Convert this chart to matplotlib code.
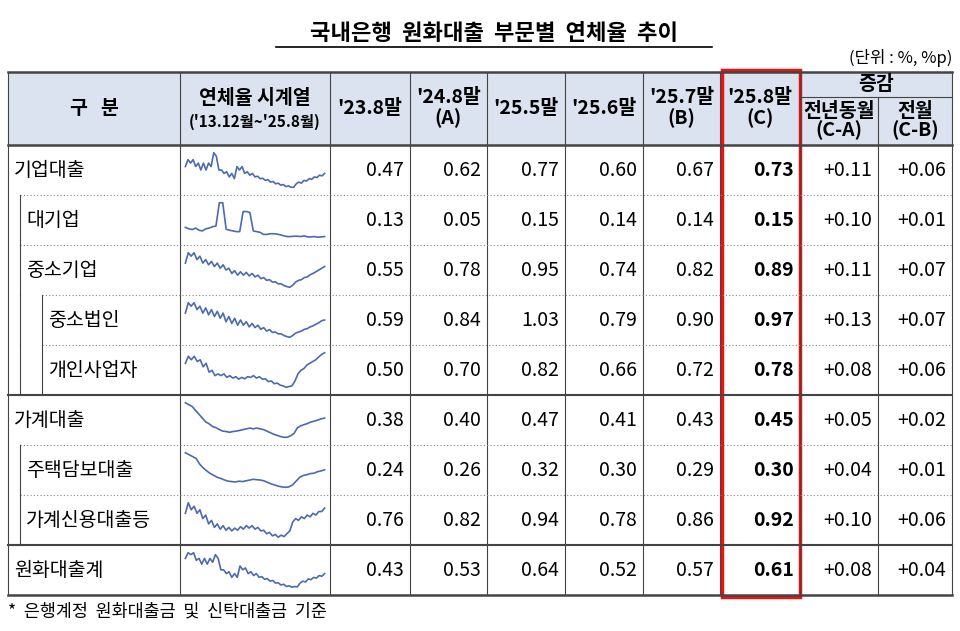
import matplotlib
matplotlib.use("Agg")
import matplotlib.pyplot as plt
from matplotlib.patches import Rectangle

plt.rcParams['font.family'] = ['Noto Sans CJK KR', 'DejaVu Sans']

title = "국내은행  원화대출  부문별  연체율  추이"
unit = "(단위 : %, %p)"
footnote = "*  은행계정  원화대출금  및  신탁대출금  기준"
categories = ["기업대출", "대기업", "중소기업", "중소법인", "개인사업자",
              "가계대출", "주택담보대출", "가계신용대출등", "원화대출계"]
indent = [0, 1, 1, 2, 2, 0, 1, 1, 0]
col_heads = ["'23.8말", "'24.8말\n(A)", "'25.5말", "'25.6말", "'25.7말\n(B)", "'25.8말\n(C)"]
sub_heads = ["전년동월\n(C-A)", "전월\n(C-B)"]
v238 = ["0.47", "0.13", "0.55", "0.59", "0.50", "0.38", "0.24", "0.76", "0.43"]
v248 = ["0.62", "0.05", "0.78", "0.84", "0.70", "0.40", "0.26", "0.82", "0.53"]
v255 = ["0.77", "0.15", "0.95", "1.03", "0.82", "0.47", "0.32", "0.94", "0.64"]
v256 = ["0.60", "0.14", "0.74", "0.79", "0.66", "0.41", "0.30", "0.78", "0.52"]
v257 = ["0.67", "0.14", "0.82", "0.90", "0.72", "0.43", "0.29", "0.86", "0.57"]
v258 = ["0.73", "0.15", "0.89", "0.97", "0.78", "0.45", "0.30", "0.92", "0.61"]
d_yoy = ["+0.11", "+0.10", "+0.11", "+0.13", "+0.08", "+0.05", "+0.04", "+0.10", "+0.08"]
d_mom = ["+0.06", "+0.01", "+0.07", "+0.07", "+0.06", "+0.02", "+0.01", "+0.06", "+0.04"]

# sparkline series (relative delinquency levels)
sp_corp = [7, 9, 8, 9, 7, 8, 6, 8, 6, 8, 7, 11, 10, 6, 6, 5, 5.5, 4, 5, 3.5, 7, 6, 7, 5, 5.5, 4.5, 5, 4, 4.2, 3.5,
           3.6, 3, 3.2, 2.5, 2.7, 2, 2.2, 1.6, 1.8, 1.2, 1.4, 1, 1, 2, 2.5, 2.2, 3, 2.8, 3.5, 3.3, 4, 3.8, 4.5, 4.3, 5]
sp_large = [3, 2.6, 2.4, 2.8, 2.2, 2, 2.6, 2.8, 3.2, 3.4, 10, 10, 2.5, 2.2, 2, 1.8, 1.8, 7.5, 7.5, 7.2, 2, 1.8, 1.6, 1.0, 1.0,
            1.2, 1.2, 1.1, 0.9, 0.6, 0.4, 0.4, 0.5, 0.5, 0.4, 0.6, 0.3, 0.3, 0.4, 0.2, 0.3, 0.4]
sp_sme = [8, 11, 10, 11, 9, 10, 8, 9, 7.5, 8.5, 7, 8, 6.5, 7.5, 6, 6.5, 5, 5.8, 4.5, 5.5, 4.5, 5.3, 4.3, 5, 4, 4.5,
          3.5, 3.8, 3, 3.2, 2.5, 2.6, 2, 2, 1.5, 1.2, 1, 1.6, 2.5, 3, 3.2, 3.8, 4, 4.6, 5, 5.5, 6, 6.5, 7]
sp_corp_sme = [8, 11, 10, 11, 9, 10, 8, 9.5, 7.5, 9, 7, 8.5, 6.5, 8, 5.5, 7, 5, 6.5, 4.5, 6, 4.5, 5.5, 4, 5, 3.8, 4.5,
               3.3, 3.8, 2.8, 3.2, 2.4, 2.5, 2, 2, 1.5, 1.2, 1, 1.5, 2.2, 2.5, 2.8, 3.3, 3.5, 4, 4.3, 4.8, 5.2, 5.8, 6]
sp_sole = [8, 10, 9, 10, 8.5, 9, 7, 8, 5.5, 6, 4.5, 5, 4.5, 5, 4, 4.5, 3.8, 4.2, 3.5, 4, 3.6, 4.2, 4, 4.5, 3.8, 4.2,
           3.5, 3.6, 2.8, 3, 2.2, 2.4, 1.8, 1.6, 1.2, 1.4, 1.6, 3, 5, 6, 6.5, 7.5, 8, 8.5, 9, 9.8, 10.5, 11]
sp_hh = [10, 9.5, 9, 8, 7, 6, 5, 4.5, 3.8, 3.5, 3, 2.6, 2.5, 2.3, 2.5, 2.6, 2.8, 3, 3.2, 3.4, 3.2, 3.4, 3.2, 3, 2.6,
         2.2, 1.8, 1.5, 1.2, 1.0, 1.0, 1.4, 2, 3.5, 4, 4.3, 4.6, 5, 5.2, 5.5, 5.8, 6]
sp_mort = [10, 9.5, 9, 8.5, 7, 6, 5.2, 4.5, 4, 3.5, 3.2, 2.8, 2.5, 2.4, 2.3, 2.5, 2.4, 2.6, 2.8, 3, 2.9, 2.8, 2.6,
           2.2, 1.8, 1.5, 1.2, 1.0, 0.9, 1.0, 1.5, 2.5, 3.5, 4, 4.2, 4.5, 4.6, 5, 5.2, 5.5]
sp_credit = [8, 11, 9, 10, 8, 9, 6.5, 7.5, 5, 6, 4, 5, 3.5, 4.5, 3.2, 4, 3, 3.8, 3.2, 4.2, 3.5, 4.5, 3.8, 4.5, 3.5,
             4, 3, 3.2, 2.2, 2.6, 1.6, 2, 1.2, 1.8, 1.4, 2.2, 3, 5.5, 6.5, 6, 7, 6.5, 7.5, 7, 8, 7.5, 8.5, 8.5, 9.5]
sp_total = [8, 9.5, 9, 9.5, 7.5, 8, 6.5, 8, 6.5, 8, 7, 9, 8, 5, 5, 4, 4.5, 3, 4, 3, 6, 5, 5.5, 4, 4.5, 3.5, 4, 3,
            3.2, 2.5, 2.7, 2, 2.2, 1.5, 1.6, 1, 1.2, 0.6, 0.8, 0.4, 0.6, 0.5, 1.5, 2, 1.8, 2.6, 2.4, 3, 2.8, 3.5, 3.3, 4]
sparks = [sp_corp, sp_large, sp_sme, sp_corp_sme, sp_sole, sp_hh, sp_mort, sp_credit, sp_total]

W, H = 960, 631
fig = plt.figure(figsize=(9.6, 6.31), dpi=100)
ax = fig.add_axes([0, 0, 1, 1])
ax.set_xlim(0, W); ax.set_ylim(H, 0); ax.axis('off')

xs = [8, 180, 330, 410, 487, 565, 643, 720, 800, 878, 952]
top, hbot, rh = 72, 145, 50
nrows = len(categories)
bot = hbot + rh * nrows
fs = 14

ax.text(494, 33, title, ha='center', va='center', fontsize=16, fontweight='bold')
ax.plot([276, 712], [47, 47], color='black', lw=1.2)
ax.text(952, 58, unit, ha='right', va='center', fontsize=12)

ax.add_patch(Rectangle((xs[0], top), xs[-1] - xs[0], hbot - top, facecolor='#dbe3f0', edgecolor='none'))
ax.text(94, 108, "구   분", ha='center', va='center', fontsize=fs, fontweight='bold')
ax.text(255, 99, "연체율 시계열", ha='center', va='center', fontsize=fs, fontweight='bold')
ax.text(255, 122, "('13.12월~'25.8월)", ha='center', va='center', fontsize=11, fontweight='bold')
for i, h in enumerate(col_heads):
    cx = (xs[2 + i] + xs[3 + i]) / 2
    ax.text(cx, 108, h, ha='center', va='center', fontsize=fs, fontweight='bold', linespacing=1.05)
ax.text((xs[8] + xs[10]) / 2, 84, "증감", ha='center', va='center', fontsize=fs, fontweight='bold')
for i, h in enumerate(sub_heads):
    cx = (xs[8 + i] + xs[9 + i]) / 2
    ax.text(cx, 121, h, ha='center', va='center', fontsize=fs, fontweight='bold', linespacing=1.0)

lc = '#444444'
ax.plot([xs[0], xs[-1]], [top, top], color=lc, lw=1.8)
ax.plot([xs[8], xs[10]], [97, 97], color=lc, lw=0.8)
for x in xs[1:-1]:
    y0 = 97 if x == xs[9] else top
    ax.plot([x, x], [y0, bot], color=lc, lw=0.8)
ax.plot([xs[0], xs[0]], [top, bot], color=lc, lw=0.8)
ax.plot([xs[-1], xs[-1]], [top, bot], color=lc, lw=0.8)
ax.plot([xs[0], xs[-1]], [hbot, hbot], color=lc, lw=1.8)
ax.plot([xs[0], xs[-1]], [bot, bot], color=lc, lw=1.8)

ind_x = [xs[0], 20, 42]
cols = [v238, v248, v255, v256, v257, v258, d_yoy, d_mom]
for r in range(nrows):
    y0 = hbot + rh * r
    cy = y0 + rh / 2
    ax.text(ind_x[indent[r]] + 6, cy, categories[r], ha='left', va='center', fontsize=fs, fontweight='medium')
    for c, col in enumerate(cols):
        bold = (c == 5)
        ax.text(xs[3 + c] - 6, cy, col[r], ha='right', va='center', fontsize=fs,
                fontweight='bold' if bold else 'normal')
    if r > 0:
        if indent[r] == 0:
            ax.plot([xs[0], xs[-1]], [y0, y0], color=lc, lw=1.5)
        else:
            ax.plot([ind_x[indent[r]], xs[-1]], [y0, y0], color='#888888', lw=0.8, ls=(0, (1, 2)))
    if indent[r] >= 1:
        ax.plot([20, 20], [y0, y0 + rh], color=lc, lw=0.8)
    if indent[r] >= 2:
        ax.plot([42, 42], [y0, y0 + rh], color=lc, lw=0.8)
    sx = fig.add_axes([184 / W, 1 - (y0 + 44) / H, 142 / W, 38 / H])
    sx.plot(range(len(sparks[r])), sparks[r], color='#4a6bb0', lw=1.2)
    sx.axis('off')
    sx.margins(x=0.01, y=0.05)

ax.add_patch(Rectangle((722, 70), 78, bot - 70 + 2, facecolor='none', edgecolor='#ee1111', lw=2.5))
ax.text(8, 612, footnote, ha='left', va='center', fontsize=12.5)

fig.savefig("out.png", dpi=100)
